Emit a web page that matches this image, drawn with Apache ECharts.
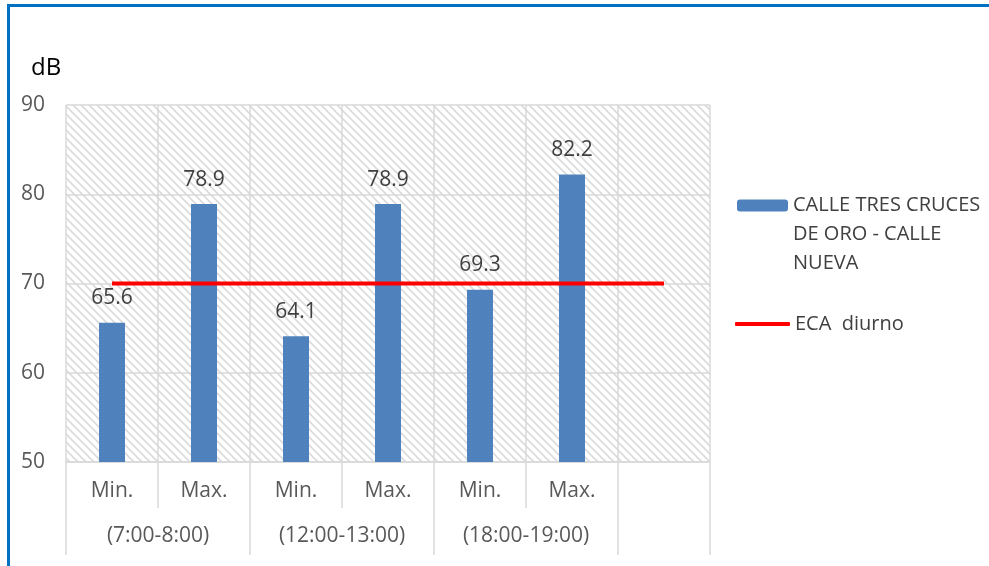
<!DOCTYPE html>
<html>
<head>
<meta charset="utf-8">
<script src="https://cdn.jsdelivr.net/npm/echarts@6/dist/echarts.min.js"></script>
<style>
html,body{margin:0;padding:0;background:#fff;}
#frame{position:absolute;left:7px;top:4px;width:1000px;height:600px;border-left:3px solid #0070c0;border-top:3px solid #0070c0;}
#chart{position:absolute;left:0;top:0;width:989px;height:566px;}
</style>
</head>
<body>
<div id="frame"></div>
<div id="chart"></div>
<script>
const categories = ['Min.', 'Max.', 'Min.', 'Max.', 'Min.', 'Max.', ''];
const groupLabels = ['', '(7:00-8:00)', '', '(12:00-13:00)', '', '(18:00-19:00)', '', ''];
const barValues = [65.6, 78.9, 64.1, 78.9, 69.3, 82.2, null];
const ecaValues = [70, 70, 70, 70, 70, 70, 70];
const barName = 'CALLE TRES CRUCES DE ORO - CALLE NUEVA';
const lineName = 'ECA  diurno';

const pc = document.createElement('canvas');
pc.width = 8; pc.height = 8;
const ctx = pc.getContext('2d');
ctx.fillStyle = '#ffffff';
ctx.fillRect(0, 0, 8, 8);
ctx.strokeStyle = '#dadada';
ctx.lineWidth = 1.6;
ctx.beginPath();
ctx.moveTo(-2, -2); ctx.lineTo(10, 10);
ctx.moveTo(-2, 6); ctx.lineTo(2, 10);
ctx.moveTo(6, -2); ctx.lineTo(10, 2);
ctx.stroke();

const font = '"Open Sans", "Noto Sans", sans-serif';
const gridColor = '#d9d9d9';
const chart = echarts.init(document.getElementById('chart'));
chart.setOption({
  animation: false,
  textStyle: { fontFamily: font },
  title: {
    text: 'dB', left: 26, top: 51,
    textStyle: { fontFamily: font, fontSize: 24, fontWeight: 'normal', color: '#000' }
  },
  legend: [
    {
      data: [barName], orient: 'vertical', left: 732, top: 128,
      itemWidth: 51, itemHeight: 12, itemGap: 0,
      formatter: () => '\n\nCALLE TRES CRUCES\nDE ORO - CALLE\nNUEVA',
      textStyle: { fontFamily: font, fontSize: 20, color: '#404040', lineHeight: 29 }
    },
    {
      data: [{ name: lineName, icon: 'roundRect' }], orient: 'vertical', left: 730, top: 309,
      itemWidth: 55, itemHeight: 4, itemGap: 0,
      textStyle: { fontFamily: font, fontSize: 20, color: '#404040' }
    }
  ],
  grid: {
    left: 66, right: 279, top: 105, bottom: 104,
    show: true, borderWidth: 0,
    backgroundColor: { image: pc, repeat: 'repeat' }
  },
  xAxis: [
    {
      type: 'category', data: categories, position: 'bottom',
      axisLine: { show: true, lineStyle: { color: gridColor, width: 1.5 } },
      axisTick: { show: true, interval: 0, length: 46, lineStyle: { color: gridColor, width: 1.5 } },
      axisLabel: { interval: 0, margin: 19, fontSize: 21, color: '#595959', fontFamily: font },
      splitLine: { show: true, interval: 0, lineStyle: { color: gridColor, width: 1.5 } }
    },
    {
      type: 'category', data: groupLabels, position: 'bottom', offset: 46,
      boundaryGap: false,
      axisLine: { show: false },
      axisTick: { show: true, length: 47, interval: (i) => i % 2 === 0 || i === 7, lineStyle: { color: gridColor, width: 1.5 } },
      axisLabel: { interval: 0, margin: 18, fontSize: 21, color: '#595959', fontFamily: font },
      splitLine: { show: false }
    }
  ],
  yAxis: {
    type: 'value', min: 50, max: 90, interval: 10,
    axisLine: { show: false }, axisTick: { show: false },
    axisLabel: { margin: 21, fontSize: 21, color: '#595959', fontFamily: font },
    splitLine: { lineStyle: { color: gridColor, width: 1.5 } }
  },
  series: [
    {
      name: barName, type: 'bar', data: barValues, barWidth: 26, xAxisIndex: 0,
      itemStyle: { color: '#4f81bd' },
      label: { show: true, position: 'top', distance: 14, fontSize: 21, color: '#404040', fontFamily: font }
    },
    {
      name: lineName, type: 'line', data: ecaValues, xAxisIndex: 0,
      symbol: 'none', lineStyle: { color: '#ff0000', width: 4 }, itemStyle: { color: '#ff0000' }
    }
  ]
});
</script>
</body>
</html>
